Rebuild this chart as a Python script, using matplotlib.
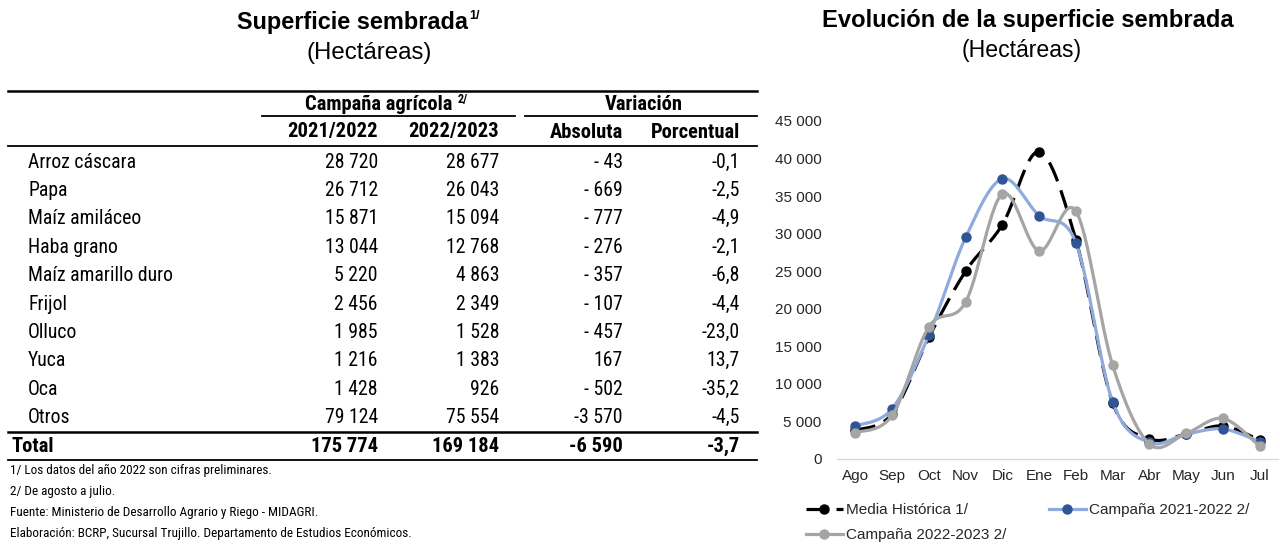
import numpy as np
import matplotlib
matplotlib.use("Agg")
import matplotlib.pyplot as plt
from matplotlib import font_manager
from matplotlib.lines import Line2D

# ---------------- data ----------------
crops = ["Arroz cáscara", "Papa", "Maíz amiláceo", "Haba grano", "Maíz amarillo duro",
         "Frijol", "Olluco", "Yuca", "Oca", "Otros"]
camp_2122 = ["28 720", "26 712", "15 871", "13 044", "5 220", "2 456", "1 985", "1 216", "1 428", "79 124"]
camp_2223 = ["28 677", "26 043", "15 094", "12 768", "4 863", "2 349", "1 528", "1 383", "926", "75 554"]
var_abs = ["- 43", "- 669", "- 777", "- 276", "- 357", "- 107", "- 457", "167", "- 502", "-3 570"]
var_pct = ["-0,1", "-2,5", "-4,9", "-2,1", "-6,8", "-4,4", "-23,0", "13,7", "-35,2", "-4,5"]
total_row = ["Total", "175 774", "169 184", "-6 590", "-3,7"]
footnotes = ["1/ Los datos del año 2022 son cifras preliminares.",
             "2/ De agosto a julio.",
             "Fuente: Ministerio de Desarrollo Agrario y Riego - MIDAGRI.",
             "Elaboración: BCRP, Sucursal Trujillo. Departamento de Estudios Económicos."]

months = ["Ago", "Sep", "Oct", "Nov", "Dic", "Ene", "Feb", "Mar", "Abr", "May", "Jun", "Jul"]
media_hist = [3800, 6000, 16200, 25000, 31200, 40900, 29200, 7500, 2700, 3300, 4400, 2500]
campana_2122 = [4400, 6700, 16500, 29500, 37300, 32400, 28800, 7600, 2200, 3300, 4000, 2300]
campana_2223 = [3500, 5800, 17600, 20900, 35300, 27700, 33000, 12500, 2000, 3400, 5400, 1700]
yticks = [0, 5000, 10000, 15000, 20000, 25000, 30000, 35000, 40000, 45000]

# ---------------- fonts ----------------
avail = {f.name for f in font_manager.fontManager.ttflist}
narrow = "Liberation Sans"
for cand in ["Liberation Sans Narrow", "Arial Narrow", "Roboto Condensed", "PT Sans Narrow",
             "Archivo Narrow", "Open Sans Condensed", "Pragati Narrow"]:
    if cand in avail:
        narrow = cand
        break
arial = "Arimo" if "Arimo" in avail else "Liberation Sans"

W, H = 1280, 546
fig = plt.figure(figsize=(W / 100, H / 100), dpi=100)
renderer = fig.canvas.get_renderer()


def fit(t, target):
    w = t.get_window_extent(renderer).width
    t.set_fontsize(t.get_fontsize() * target / w)
    return t.get_fontsize()


# full-figure pixel axes for the table and titles
tx = fig.add_axes([0, 0, 1, 1])
tx.set_xlim(0, W)
tx.set_ylim(H, 0)
tx.axis("off")

# titles
t1 = tx.text(237, 22, "Superficie sembrada", ha="left", va="center",
             fontsize=16, fontweight="bold", family=arial)
fit(t1, 231)
bb = t1.get_window_extent(renderer)
tx.text(bb.x1 + 1, 16, "1/", ha="left", va="center", fontsize=9,
        fontweight="bold", family=arial)
t2 = tx.text(307, 53, "(Hectáreas)", ha="left", va="center", fontsize=16, family=arial)
fit(t2, 126)

t3 = tx.text(822, 21, "Evolución de la superficie sembrada", ha="left", va="center",
             fontsize=16, fontweight="bold", family=arial)
fit(t3, 411)
t4 = tx.text(962, 50, "(Hectáreas)", ha="left", va="center", fontsize=16, family=arial)
fit(t4, 121)

# table
col_right = [378, 499, 623, 740]
name_x = 28
probe = tx.text(0, -100, "Maíz amarillo duro", fontsize=13, family=narrow)
fs = fit(probe, 145)
probe.remove()
probe = tx.text(0, -100, "Campaña agrícola", fontsize=13, family=narrow, fontweight="bold")
fsb = fit(probe, 147)
probe.remove()
probe = tx.text(0, -100, footnotes[0], fontsize=8.5, family=narrow)
fsn = fit(probe, 262)
probe.remove()

tx.plot([8, 757], [91, 91], color="black", lw=1.8)
tx.plot([262, 515], [116, 116], color="black", lw=1.3)
tx.plot([525, 757], [116, 116], color="black", lw=1.3)
tx.plot([8, 757], [146, 146], color="black", lw=1.3)
tx.plot([8, 757], [432, 432], color="black", lw=1.8)
tx.plot([8, 757], [460, 460], color="black", lw=1.3)

g1 = tx.text(305, 105, "Campaña agrícola", ha="left", va="center", fontsize=fsb,
             fontweight="bold", family=narrow)
bb = g1.get_window_extent(renderer)
tx.text(bb.x1 + 5, 99, "2/", ha="left", va="center", fontsize=fsb * 0.6,
        fontweight="bold", family=narrow)
tx.text(644, 105, "Variación", ha="center", va="center", fontsize=fsb,
        fontweight="bold", family=narrow)
for x, h in zip(col_right, ["2021/2022", "2022/2023", "Absoluta", "Porcentual"]):
    tx.text(x, 132, h, ha="right", va="center", fontsize=fsb, fontweight="bold", family=narrow)

row0, dy = 162, 28.4
for i, name in enumerate(crops):
    y = row0 + i * dy
    tx.text(name_x, y, name, ha="left", va="center", fontsize=fs, family=narrow)
    for x, v in zip(col_right, [camp_2122[i], camp_2223[i], var_abs[i], var_pct[i]]):
        tx.text(x, y, v, ha="right", va="center", fontsize=fs, family=narrow)

ty = 446
tx.text(12, ty, total_row[0], ha="left", va="center", fontsize=fsb, fontweight="bold", family=narrow)
for x, v in zip(col_right, total_row[1:]):
    tx.text(x, ty, v, ha="right", va="center", fontsize=fsb, fontweight="bold", family=narrow)

for i, fn in enumerate(footnotes):
    tx.text(10, 470 + i * 21.3, fn, ha="left", va="center", fontsize=fsn, family=narrow)

# ---------------- chart ----------------
def smooth(xs, ys, n=30):
    xs = np.asarray(xs, float)
    ys = np.asarray(ys, float)
    P = np.column_stack([xs, ys])
    P = np.vstack([P[0], P, P[-1]])
    out = []
    t = np.linspace(0, 1, n)
    for i in range(1, len(P) - 2):
        p0, p1, p2, p3 = P[i - 1], P[i], P[i + 1], P[i + 2]
        c1 = p1 + (p2 - p0) / 6.0
        c2 = p2 - (p3 - p1) / 6.0
        seg = ((1 - t) ** 3)[:, None] * p1 + (3 * (1 - t) ** 2 * t)[:, None] * c1 + \
              (3 * (1 - t) * t ** 2)[:, None] * c2 + (t ** 3)[:, None] * p2
        out.append(seg if i == 1 else seg[1:])
    out = np.vstack(out)
    return out[:, 0], out[:, 1]

ax = fig.add_axes([837 / W, (H - 459) / H, (1278 - 837) / W, (459 - 121) / H])
x = np.arange(len(months))

sx, sy = smooth(x, media_hist)
lm, = ax.plot(sx, sy, color="black", lw=2.3, zorder=2)
lm.set_dashes([6.4, 3.0])
ax.plot(x, media_hist, "o", color="black", ms=6.5, zorder=2)

sx, sy = smooth(x, campana_2122)
ax.plot(sx, sy, color="#8FAADC", lw=2.3, zorder=3)
ax.plot(x, campana_2122, "o", color="#2F5597", ms=6.5, zorder=3)

sx, sy = smooth(x, campana_2223)
ax.plot(sx, sy, color="#A5A5A5", lw=2.3, zorder=4)
ax.plot(x, campana_2223, "o", color="#A5A5A5", ms=6.5, zorder=4)

ax.set_xlim(-0.5, len(months) - 0.5)
ax.set_ylim(0, 45000)
ax.set_yticks(yticks)
ax.set_yticklabels([f"{v:,}".replace(",", " ") for v in yticks])
ax.set_xticks(x)
ax.set_xticklabels(months)
for s in ["top", "right", "left"]:
    ax.spines[s].set_visible(False)
ax.spines["bottom"].set_color("#D9D9D9")
ax.spines["bottom"].set_linewidth(1.0)
ax.tick_params(axis="both", length=0, labelsize=11, colors="#262626")
ax.tick_params(axis="y", pad=11)
ax.tick_params(axis="x", pad=7)
for lab in ax.get_xticklabels() + ax.get_yticklabels():
    lab.set_family(arial)
ax.patch.set_alpha(0)

h1 = Line2D([], [], color="black", lw=2.3, marker="o", ms=6.5)
h1.set_dashes([6.4, 3.0])
h2 = Line2D([], [], color="#8FAADC", lw=2.3, marker="o", ms=6.5,
            markerfacecolor="#2F5597", markeredgecolor="#2F5597")
h3 = Line2D([], [], color="#A5A5A5", lw=2.3, marker="o", ms=6.5)
leg = fig.legend([h1, h3, h2], ["Media Histórica 1/", "Campaña 2022-2023 2/", "Campaña 2021-2022 2/"],
                 ncol=2, loc="upper left", bbox_to_anchor=(806 / W, 1 - 503 / H),
                 frameon=False, prop={"family": arial, "size": 11},
                 handlelength=2.4, handletextpad=0.2, columnspacing=2.8,
                 labelspacing=0.75, borderpad=0, borderaxespad=0)
for t in leg.get_texts():
    t.set_color("#262626")

fig.savefig("out.png", dpi=100)
